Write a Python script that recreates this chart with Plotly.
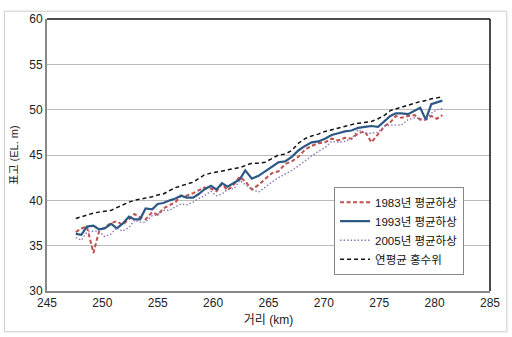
import plotly.graph_objects as go

distance_km = [
    247.6, 248.1, 248.6, 249.2, 249.7, 250.2, 250.8, 251.3, 251.8, 252.4,
    252.9, 253.4, 253.9, 254.5, 255.0, 255.5, 256.1, 256.6, 257.1, 257.6,
    258.2, 258.7, 259.2, 259.8, 260.3, 260.8, 261.3, 261.9, 262.4, 262.9,
    263.5, 264.1, 264.7, 265.3, 265.9, 266.5, 267.1, 267.7, 268.3, 268.9,
    269.5, 270.1, 270.7, 271.3, 271.9, 272.5, 273.1, 273.7, 274.3, 274.9,
    275.5, 276.0, 276.5, 277.0, 277.6, 278.2, 278.7, 279.2, 279.7, 280.2, 280.7,
]

bed_1983 = [
    36.5, 36.9, 37.1, 34.2, 36.6, 37.0, 37.5, 37.7, 37.3, 37.9,
    38.5, 38.1, 37.9, 38.7, 38.4, 39.1, 39.5, 39.8, 40.5, 40.5,
    40.8, 41.1, 41.4, 41.3, 41.0, 41.8, 41.1, 41.8, 42.6, 42.1,
    41.2, 41.7, 42.3, 43.0, 43.2, 44.0, 44.3, 44.8, 45.6, 46.0,
    46.3, 46.4, 46.8, 46.6, 46.9, 46.8, 47.4, 47.6, 46.4, 47.3,
    48.2, 48.6, 49.3, 49.1, 49.3, 49.4, 48.9, 48.9, 49.3, 49.0, 49.4,
]

bed_1993 = [
    36.3, 36.2, 37.1, 37.2, 36.8, 36.9, 37.4, 36.9, 37.4, 38.2,
    37.9, 37.9, 39.1, 39.0, 39.6, 39.7, 40.0, 40.2, 40.5, 40.3,
    40.3, 40.7, 41.2, 41.6, 41.2, 41.9, 41.5, 41.9, 42.3, 43.3,
    42.4, 42.7, 43.2, 43.7, 44.2, 44.3, 44.8, 45.5, 46.0, 46.4,
    46.5, 46.8, 47.2, 47.4, 47.6, 47.7, 48.0, 48.1, 48.2, 48.1,
    48.8, 49.3, 49.6, 49.6, 49.5, 49.9, 50.2, 48.9, 50.6, 50.8, 51.0,
]

bed_2005 = [
    35.9, 35.6, 36.5, 36.6, 36.6, 36.0, 36.3, 37.0, 36.6, 37.0,
    37.8, 37.6, 37.6, 38.3, 38.4, 38.9, 38.9, 39.3, 39.6, 39.5,
    39.8, 40.2, 40.5, 41.0, 40.5, 40.7, 41.2, 41.3, 42.2, 41.7,
    41.2, 40.9, 41.5, 42.0, 42.5, 42.9, 43.3, 43.8, 44.4, 44.9,
    45.4, 45.8, 46.5, 46.4, 46.5, 46.8, 47.8, 47.4, 47.4, 47.5,
    48.2, 48.3, 48.3, 48.3, 48.9, 49.1, 49.0, 48.9, 49.6, 50.0, 50.1,
]

flood_level = [
    38.0, 38.2, 38.4, 38.6, 38.7, 38.8, 38.9, 39.2, 39.5, 39.8,
    40.0, 40.1, 40.2, 40.4, 40.6, 40.7, 41.1, 41.4, 41.6, 41.8,
    42.0, 42.4, 42.8, 43.0, 43.1, 43.2, 43.3, 43.5, 43.6, 43.8,
    44.1, 44.1, 44.2, 44.6, 45.0, 45.1, 45.5, 46.3, 46.8, 47.1,
    47.3, 47.6, 47.8, 48.0, 48.2, 48.35, 48.5, 48.6, 48.7, 49.0,
    49.4, 49.9, 50.1, 50.3, 50.5, 50.7, 50.9, 51.0, 51.2, 51.3, 51.4,
]

series_names = ["1983년 평균하상", "1993년 평균하상", "2005년 평균하상", "연평균 홍수위"]
x_ticks = [245, 250, 255, 260, 265, 270, 275, 280, 285]
y_ticks = [30, 35, 40, 45, 50, 55, 60]

FONT = "Liberation Sans, Arial, Noto Sans CJK KR, sans-serif"

fig = go.Figure()
fig.add_trace(go.Scatter(x=distance_km, y=bed_1983, mode="lines", name=series_names[0],
                         line=dict(color="#C0504D", width=2, dash="4px,2.5px")))
fig.add_trace(go.Scatter(x=distance_km, y=bed_1993, mode="lines", name=series_names[1],
                         line=dict(color="#2C5886", width=2.2)))
fig.add_trace(go.Scatter(x=distance_km, y=bed_2005, mode="lines", name=series_names[2],
                         line=dict(color="#8A76B8", width=1.4, dash="1.5px,2px")))
fig.add_trace(go.Scatter(x=distance_km, y=flood_level, mode="lines", name=series_names[3],
                         line=dict(color="#111111", width=1.5, dash="4px,3px")))

fig.update_layout(
    width=512, height=337,
    margin=dict(l=47, r=18, t=15, b=43),
    paper_bgcolor="white", plot_bgcolor="white",
    font=dict(family=FONT, size=12, color="#222222"),
    showlegend=True,
    legend=dict(
        x=0.648, y=0.3835, xanchor="left", yanchor="top",
        bgcolor="white", bordercolor="#888888", borderwidth=1,
        font=dict(family=FONT, size=11.5, color="#111111"),
        tracegroupgap=0, itemwidth=30,
    ),
    xaxis=dict(
        range=[245, 285], tickvals=x_ticks, showgrid=False, zeroline=False,
        showline=True, linecolor="#888888", linewidth=2,
        ticks="", ticklen=0,
        title=dict(text="거리 (km)", font=dict(family=FONT, size=12), standoff=6),
        tickfont=dict(family=FONT, size=12, color="#222222"),
    ),
    yaxis=dict(
        range=[30, 60], tickvals=y_ticks, showgrid=True, gridcolor="#BBBBBB", gridwidth=1,
        zeroline=False, showline=True, linecolor="#888888", linewidth=2,
        ticks="", ticklen=0,
        title=dict(text="표고 (EL. m)", font=dict(family=FONT, size=11), standoff=8),
        tickfont=dict(family=FONT, size=12, color="#222222"),
    ),
    shapes=[
        dict(type="line", xref="paper", yref="paper", x0=0, x1=1, y0=1, y1=1,
             line=dict(color="#111111", width=1.5)),
        dict(type="line", xref="paper", yref="paper", x0=1, x1=1, y0=0, y1=1,
             line=dict(color="#111111", width=1.5)),
        dict(type="rect", xref="paper", yref="paper", x0=-0.0962, x1=1.038, y0=-0.15, y1=1.0287,
             line=dict(color="#CCCCCC", width=1), layer="below"),
    ],
)

fig.write_html("out.html")
